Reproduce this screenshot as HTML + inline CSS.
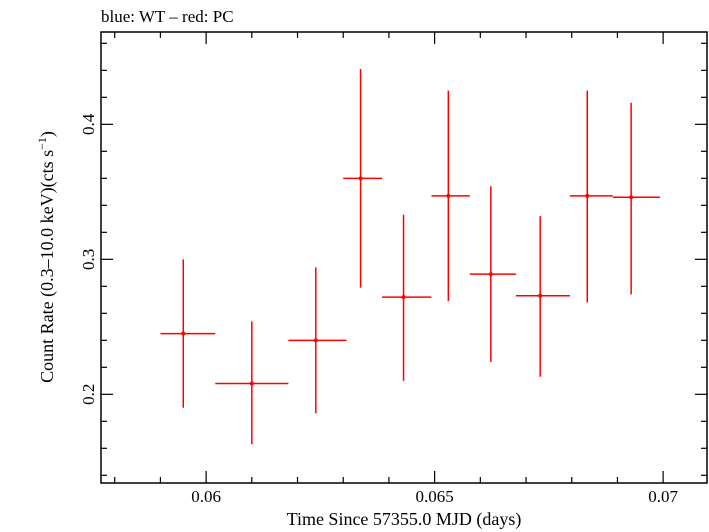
<!DOCTYPE html>
<html><head><meta charset="utf-8"><style>
body{margin:0;background:#fff}
svg{display:block;font-family:"Liberation Serif",serif}
</style></head><body>
<svg id="chart" width="709" height="532" viewBox="0 0 709 532">
<text x="101" y="22" font-size="17">blue: WT – red: PC</text>
<rect x="101" y="32" width="606" height="451" fill="none" stroke="#000" stroke-width="1.5"/>
<g id="ticks"></g>
<g id="marks"></g>
<text x="404" y="525" font-size="18" text-anchor="middle">Time Since 57355.0 MJD (days)</text>
<text transform="translate(53,257) rotate(-90)" font-size="18" text-anchor="middle">Count Rate (0.3–10.0 keV)(cts s<tspan dy="-7" font-size="12">−1</tspan><tspan dy="7">)</tspan></text>
</svg>
<script>
const timeMid=[0.0595,0.0610,0.0624,0.06338,0.06432,0.0653,0.06623,0.06731,0.06834,0.0693];
const timeLo=[0.0590,0.0618-0.0016,0.0618,0.0630,0.06385,0.06493,0.06577,0.06678,0.06796,0.06890];
const timeHi=[0.0602,0.0618,0.06307,0.06385,0.06493,0.06577,0.06678,0.06796,0.06890,0.06993];
const rate=[0.245,0.208,0.240,0.360,0.272,0.347,0.289,0.273,0.347,0.346];
const rateLo=[0.190,0.163,0.186,0.279,0.210,0.269,0.224,0.213,0.268,0.274];
const rateHi=[0.300,0.254,0.294,0.441,0.333,0.425,0.354,0.332,0.425,0.416];
const xTicks=[0.06,0.065,0.07];
const xTickLabels=["0.06","0.065","0.07"];
const yTicks=[0.2,0.3,0.4];
const yTickLabels=["0.2","0.3","0.4"];
const X0=101,X1=707,Y0=32,Y1=483;
const xmin=0.0577,xmax=0.07096,ymin=0.1343,ymax=0.4684;
const xs=v=>X0+(v-xmin)/(xmax-xmin)*(X1-X0);
const ys=v=>Y1-(v-ymin)/(ymax-ymin)*(Y1-Y0);
const NS="http://www.w3.org/2000/svg";
function mk(tag,attrs,parent){const e=document.createElementNS(NS,tag);for(const k in attrs)e.setAttribute(k,attrs[k]);parent.appendChild(e);return e;}
const tg=document.getElementById('ticks');
for(let i=0;i<=14;i++){const v=0.058+i*0.001;if(v>xmax)break;const x=xs(v);const major=Math.abs((v*1000)%5)<1e-6||Math.abs((v*1000)%5-5)<1e-6;const L=major?12:6;
 const t1=mk('line',{x1:x,x2:x,y1:Y1,y2:Y1-L,stroke:'#000','stroke-width':1.2},tg);
 
 
 const t2=mk('line',{x1:x,x2:x,y1:Y0,y2:Y0+L,stroke:'#000','stroke-width':1.2},tg);
 
 }
for(let i=0;i<=17;i++){const v=0.14+i*0.02;if(v>ymax)break;const y=ys(v);const major=Math.abs(Math.round(v*10)-v*10)<1e-6;const L=major?12:6;
 const t1=mk('line',{x1:X0,x2:X0+L,y1:y,y2:y,stroke:'#000','stroke-width':1.2},tg);
 
 
 const t2=mk('line',{x1:X1,x2:X1-L,y1:y,y2:y,stroke:'#000','stroke-width':1.2},tg);
 
 }
xTicks.forEach((v,i)=>{const t=mk('text',{x:xs(v),y:502,'font-size':17,'text-anchor':'middle'},tg);t.textContent=xTickLabels[i];
 
 });
yTicks.forEach((v,i)=>{const t=mk('text',{transform:`translate(94,${ys(v)}) rotate(-90)`,'font-size':17,'text-anchor':'middle'},tg);t.textContent=yTickLabels[i];
 
 });
const mg=document.getElementById('marks');
rate.forEach((r,i)=>{
 const h=mk('line',{x1:xs(timeLo[i]),x2:xs(timeHi[i]),y1:ys(r),y2:ys(r),stroke:'#f00','stroke-width':1.5},mg);
 
 
 const v=mk('line',{x1:xs(timeMid[i]),x2:xs(timeMid[i]),y1:ys(rateLo[i]),y2:ys(rateHi[i]),stroke:'#f00','stroke-width':1.5},mg);
 
 
 const c=mk('circle',{cx:xs(timeMid[i]),cy:ys(r),r:2,fill:'#f00'},mg);
 
 
});
</script>
</body></html>
